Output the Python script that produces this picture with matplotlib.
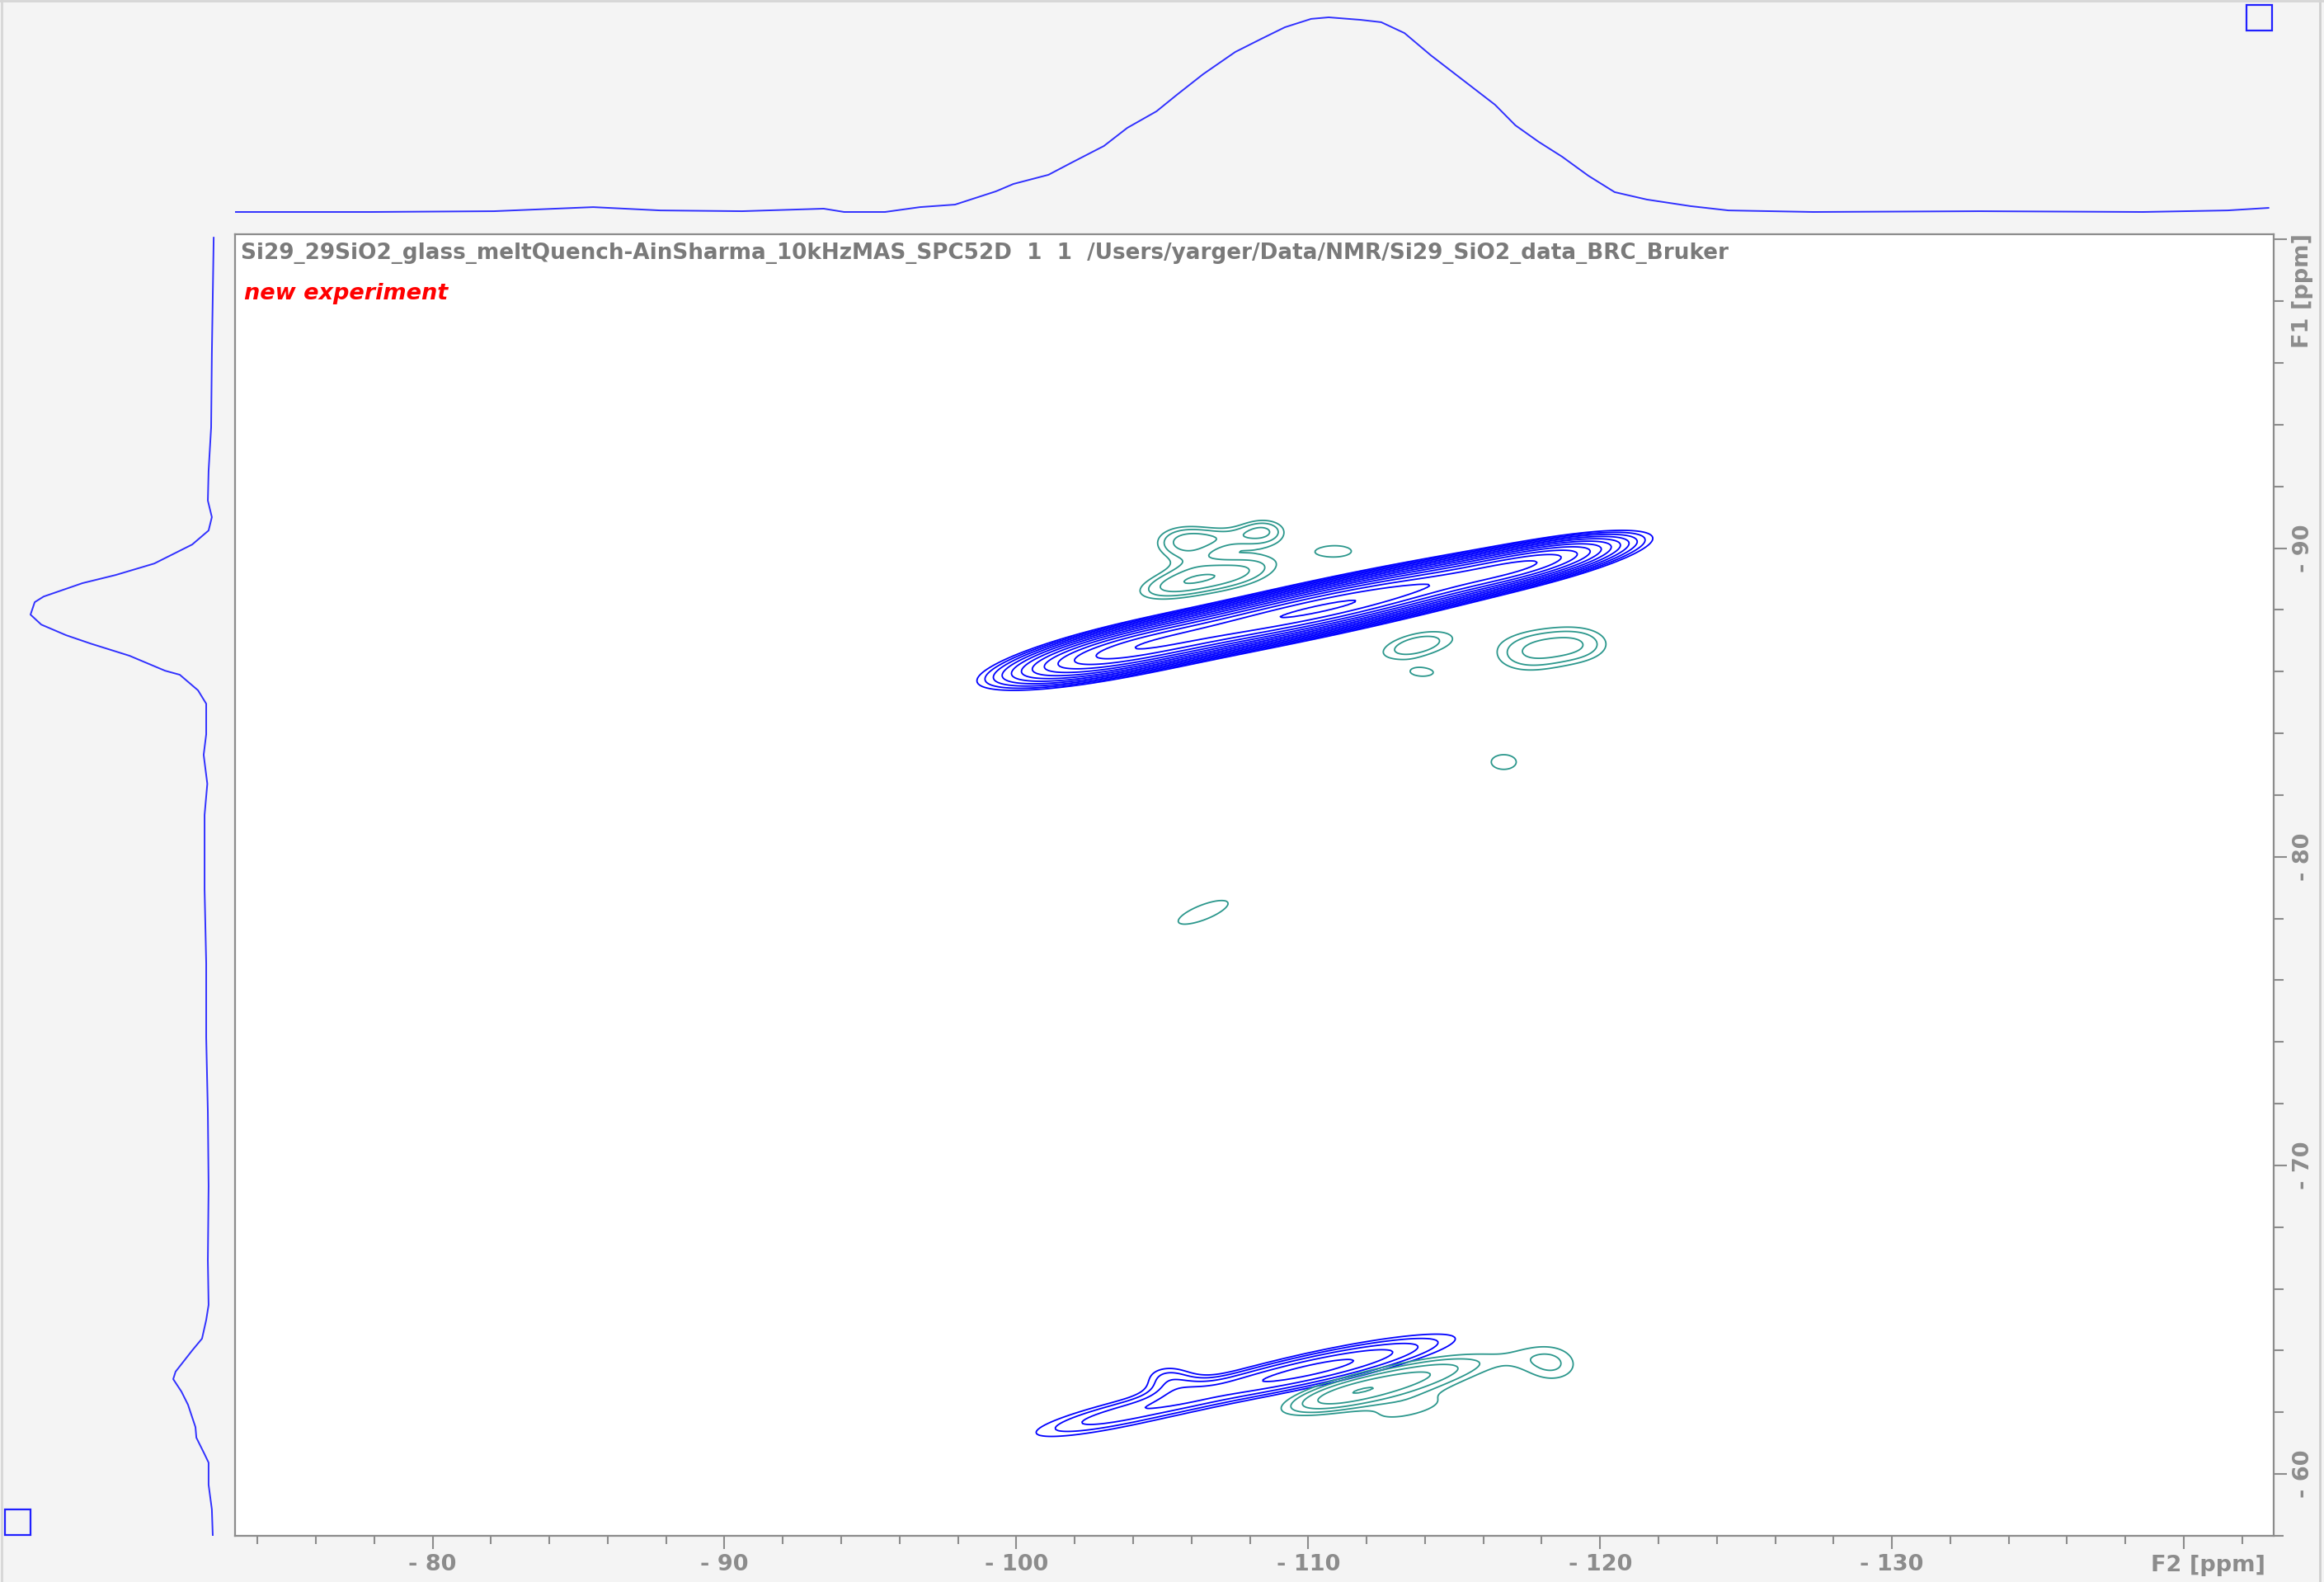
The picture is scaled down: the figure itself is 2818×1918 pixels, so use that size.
import numpy as np
import matplotlib
matplotlib.use("Agg")
import matplotlib.pyplot as plt
from matplotlib.patches import Rectangle
from matplotlib.lines import Line2D

# -------------------------
# Data
# -------------------------
title = ("Si29_29SiO2_glass_meltQuench-AinSharma_10kHzMAS_SPC52D  1  1  "
         "/Users/yarger/Data/NMR/Si29_SiO2_data_BRC_Bruker")

# F2 projection (top trace): ppm / normalised intensity
f2_ppm = [-73.2, -77.9, -82.1, -85.5, -87.8, -90.6, -93.4, -94.1, -95.5, -96.7,
          -97.9, -99.3, -99.9, -101.1, -101.9, -103.0, -103.8, -104.8, -105.5, -106.4,
          -107.5, -108.4, -109.2, -110.1, -110.7, -111.8, -112.5, -113.3, -114.2, -115.3,
          -116.4, -117.1, -117.9, -118.7, -119.6, -120.5, -121.6, -123.1, -124.4, -127.3,
          -133.0, -138.6, -141.5, -142.9]
f2_int = [0.0, 0.0, 0.004, 0.025, 0.008, 0.004, 0.017, 0.0, 0.0, 0.025,
          0.038, 0.106, 0.144, 0.191, 0.254, 0.339, 0.432, 0.517, 0.602, 0.708,
          0.822, 0.890, 0.949, 0.992, 1.0, 0.987, 0.975, 0.919, 0.805, 0.678,
          0.551, 0.445, 0.360, 0.284, 0.186, 0.102, 0.064, 0.030, 0.008, 0.0,
          0.004, 0.0, 0.008, 0.021]

# F1 projection (left trace)
f1_ppm = [-100.06, -96.34, -93.97, -92.57, -91.62, -91.09, -90.66, -90.21, -89.60, -89.23,
          -88.97, -88.54, -88.36, -87.96, -87.64, -87.30, -87.03, -86.64, -86.16, -86.03,
          -85.53, -85.10, -84.12, -83.46, -82.53, -81.53, -79.14, -76.76, -74.38, -71.99,
          -69.61, -67.23, -65.80, -65.32, -64.72, -64.34, -63.66, -63.42, -63.02, -62.60,
          -61.88, -61.54, -61.01, -60.74, -60.03, -59.24, -58.39]
f1_int = [-0.005, 0.005, 0.009, 0.023, 0.027, 0.005, 0.023, 0.113, 0.321, 0.534,
          0.715, 0.928, 0.977, 1.0, 0.941, 0.805, 0.670, 0.457, 0.262, 0.181,
          0.081, 0.036, 0.036, 0.050, 0.030, 0.045, 0.045, 0.036, 0.036, 0.027,
          0.023, 0.027, 0.023, 0.036, 0.059, 0.113, 0.204, 0.217, 0.172, 0.136,
          0.095, 0.090, 0.045, 0.023, 0.023, 0.005, 0.0]

# positive cross peaks (blue): F2 centre, F1 centre, height, width along / across ridge, tilt
pos_f2 = [-110.5, -103.6, -117.6, -110.3, -103.2, -105.2]
pos_f1 = [-88.06, -86.68, -89.49, -63.42, -61.85, -63.15]
pos_amp = [0.75, 0.33, 0.28, 0.13, 0.075, 0.06]
pos_su = [4.5, 2.3, 1.9, 3.5, 2.7, 0.8]
pos_sv = [0.40, 0.40, 0.32, 0.40, 0.38, 0.4]
pos_tilt = [11.4, 11.4, 11.4, 11.6, 11.6, 0.0]

# negative peaks (teal)
neg_f2 = [-105.7, -108.5, -107.2, -107.6, -105.3, -111.0, -113.7, -113.95,
          -117.6, -119.5, -116.7, -106.4, -113.3, -110.8, -118.4, -113.5]
neg_f1 = [-90.15, -90.6, -90.35, -89.2, -88.8, -89.9, -86.85, -85.95,
          -86.65, -86.9, -83.07, -78.2, -63.05, -62.45, -63.5, -62.05]
neg_amp = [0.075, 0.066, 0.045, 0.075, 0.069, 0.056, 0.074, 0.052,
           0.075, 0.055, 0.056, 0.06, 0.10, 0.05, 0.06, 0.05]
neg_su = [0.9, 0.7, 1.0, 1.4, 1.2, 0.9, 1.3, 0.6,
          1.2, 1.0, 0.9, 1.5, 2.6, 1.5, 1.0, 1.5]
neg_sv = [0.5, 0.35, 0.3, 0.45, 0.4, 0.3, 0.42, 0.2,
          0.62, 0.55, 0.5, 0.4, 0.45, 0.35, 0.6, 0.3]
neg_tilt = [0, 0, 0, 11, 11, 0, 12, 0,
            5, 0, 0, 20, 12, 12, 0, 12]

# contour levels (TopSpin style, geometric)
base_level = 0.05
level_factor = 1.25
n_levels = 16

# axis limits (ppm)
f2_lim = (-73.23, -143.08)
f1_lim = (-58.39, -100.17)

# -------------------------
# Build 2D field from peak list
# -------------------------
def peak_sum(X, Y, c2s, c1s, amps, sus, svs, tilts):
    Z = np.zeros_like(X)
    for c2, c1, a, su, sv, t in zip(c2s, c1s, amps, sus, svs, tilts):
        th = np.deg2rad(t)
        dx = X - c2
        dy = Y - c1
        u = dx * np.cos(th) + dy * np.sin(th)
        v = -dx * np.sin(th) + dy * np.cos(th)
        Z += a * np.exp(-0.5 * (u / su) ** 2 - 0.5 * (v / sv) ** 2)
    return Z

g2 = np.linspace(-73.0, -143.5, 1400)
g1 = np.linspace(-58.0, -100.5, 900)
X, Y = np.meshgrid(g2, g1)
Zpos = peak_sum(X, Y, pos_f2, pos_f1, pos_amp, pos_su, pos_sv, pos_tilt)
Zneg = peak_sum(X, Y, neg_f2, neg_f1, neg_amp, neg_su, neg_sv, neg_tilt)
levels = base_level * level_factor ** np.arange(n_levels)

# -------------------------
# Figure layout (pixel based)
# -------------------------
W, H = 2818, 1918
fig = plt.figure(figsize=(W / 100, H / 100), dpi=100, facecolor="#f4f4f4")

L, R, T, B = 285, 2757, 284, 1862
ax = fig.add_axes([L / W, (H - B) / H, (R - L) / W, (B - T) / H])
ax.set_facecolor("white")
ax.contour(X, Y, Zpos, levels=levels, colors="#0000ff", linewidths=1.3)
ax.contour(X, Y, Zneg, levels=levels, colors="#2b978c", linewidths=1.3)
ax.set_xlim(*f2_lim)
ax.set_ylim(*f1_lim)

gray = "#8c8c8c"
for s in ax.spines.values():
    s.set_color(gray)
    s.set_linewidth(1.6)

xt = np.arange(-80, -141, -10)
ax.set_xticks(xt)
ax.set_xticklabels(["- %d" % abs(v) for v in xt[:-1]] + [""])
ax.set_xticks(np.arange(-74, -143, -2), minor=True)
yt = np.arange(-100, -59, 10)
ax.yaxis.tick_right()
ax.set_yticks(yt)
ax.set_yticklabels([""] + ["- %d" % abs(v) for v in yt[1:]], rotation=90,
                   va="center", ha="left")
ax.set_yticks(np.arange(-100, -57, 2), minor=True)
ax.tick_params(axis="both", which="both", direction="out", color=gray, width=1.5,
               labelcolor=gray, labelsize=19.5)
ax.tick_params(axis="x", which="major", length=11.5, pad=4)
ax.tick_params(axis="x", which="minor", length=7)
ax.tick_params(axis="y", which="major", length=11.5, pad=5)
ax.tick_params(axis="y", which="minor", length=8.5)
for lab in ax.get_xticklabels() + ax.get_yticklabels():
    lab.set_fontweight("bold")

fig.text(2747 / W, 1 - 1898 / H, "F2 [ppm]", ha="right", va="center",
         color=gray, fontsize=19.5, fontweight="bold")
fig.text(2792 / W, 1 - 352 / H, "F1 [ppm]", ha="center", va="center",
         rotation=90, color=gray, fontsize=19.5, fontweight="bold")

# title lines inside the plot
fig.text(292 / W, 1 - 307 / H, title, ha="left", va="center",
         color="#7a7a7a", fontsize=18.9, fontweight="bold")
fig.text(296 / W, 1 - 356 / H, "new experiment", ha="left", va="center",
         color="#ff0000", fontsize=19.5, fontweight="bold", style="italic")

# -------------------------
# Projections
# -------------------------
ax_top = fig.add_axes([L / W, (H - T) / H, (R - L) / W, T / H])
ax_top.plot(f2_ppm, f2_int, color="#3030ff", lw=1.4)
ax_top.set_xlim(*f2_lim)
ax_top.set_ylim(-27 / 236, 1 + 21 / 236)
ax_top.axis("off")

ax_left = fig.add_axes([0, (H - B) / H, L / W, (B - T) / H])
ax_left.plot(f1_int, f1_ppm, color="#3030ff", lw=1.4)
ax_left.set_ylim(*f1_lim)
ax_left.set_xlim(258 / 221, -27 / 221)
ax_left.axis("off")

# little blue boxes and window border
for (x0, y0) in [(2724, 6), (6, 1830)]:
    fig.patches.append(Rectangle((x0 / W, 1 - (y0 + 31) / H), 31 / W, 31 / H,
                                 transform=fig.transFigure, fill=False,
                                 ec="#2020ff", lw=1.6))
fig.lines.append(Line2D([2813 / W, 2813 / W], [0, 1], transform=fig.transFigure,
                        color="#cfcfcf", lw=2))
fig.lines.append(Line2D([2 / W, 2 / W], [0, 1], transform=fig.transFigure,
                        color="#d6d6d6", lw=2))
fig.lines.append(Line2D([0, 1], [1 - 1 / H, 1 - 1 / H], transform=fig.transFigure,
                        color="#d6d6d6", lw=2))

fig.savefig("out.png", dpi=100, facecolor=fig.get_facecolor())
